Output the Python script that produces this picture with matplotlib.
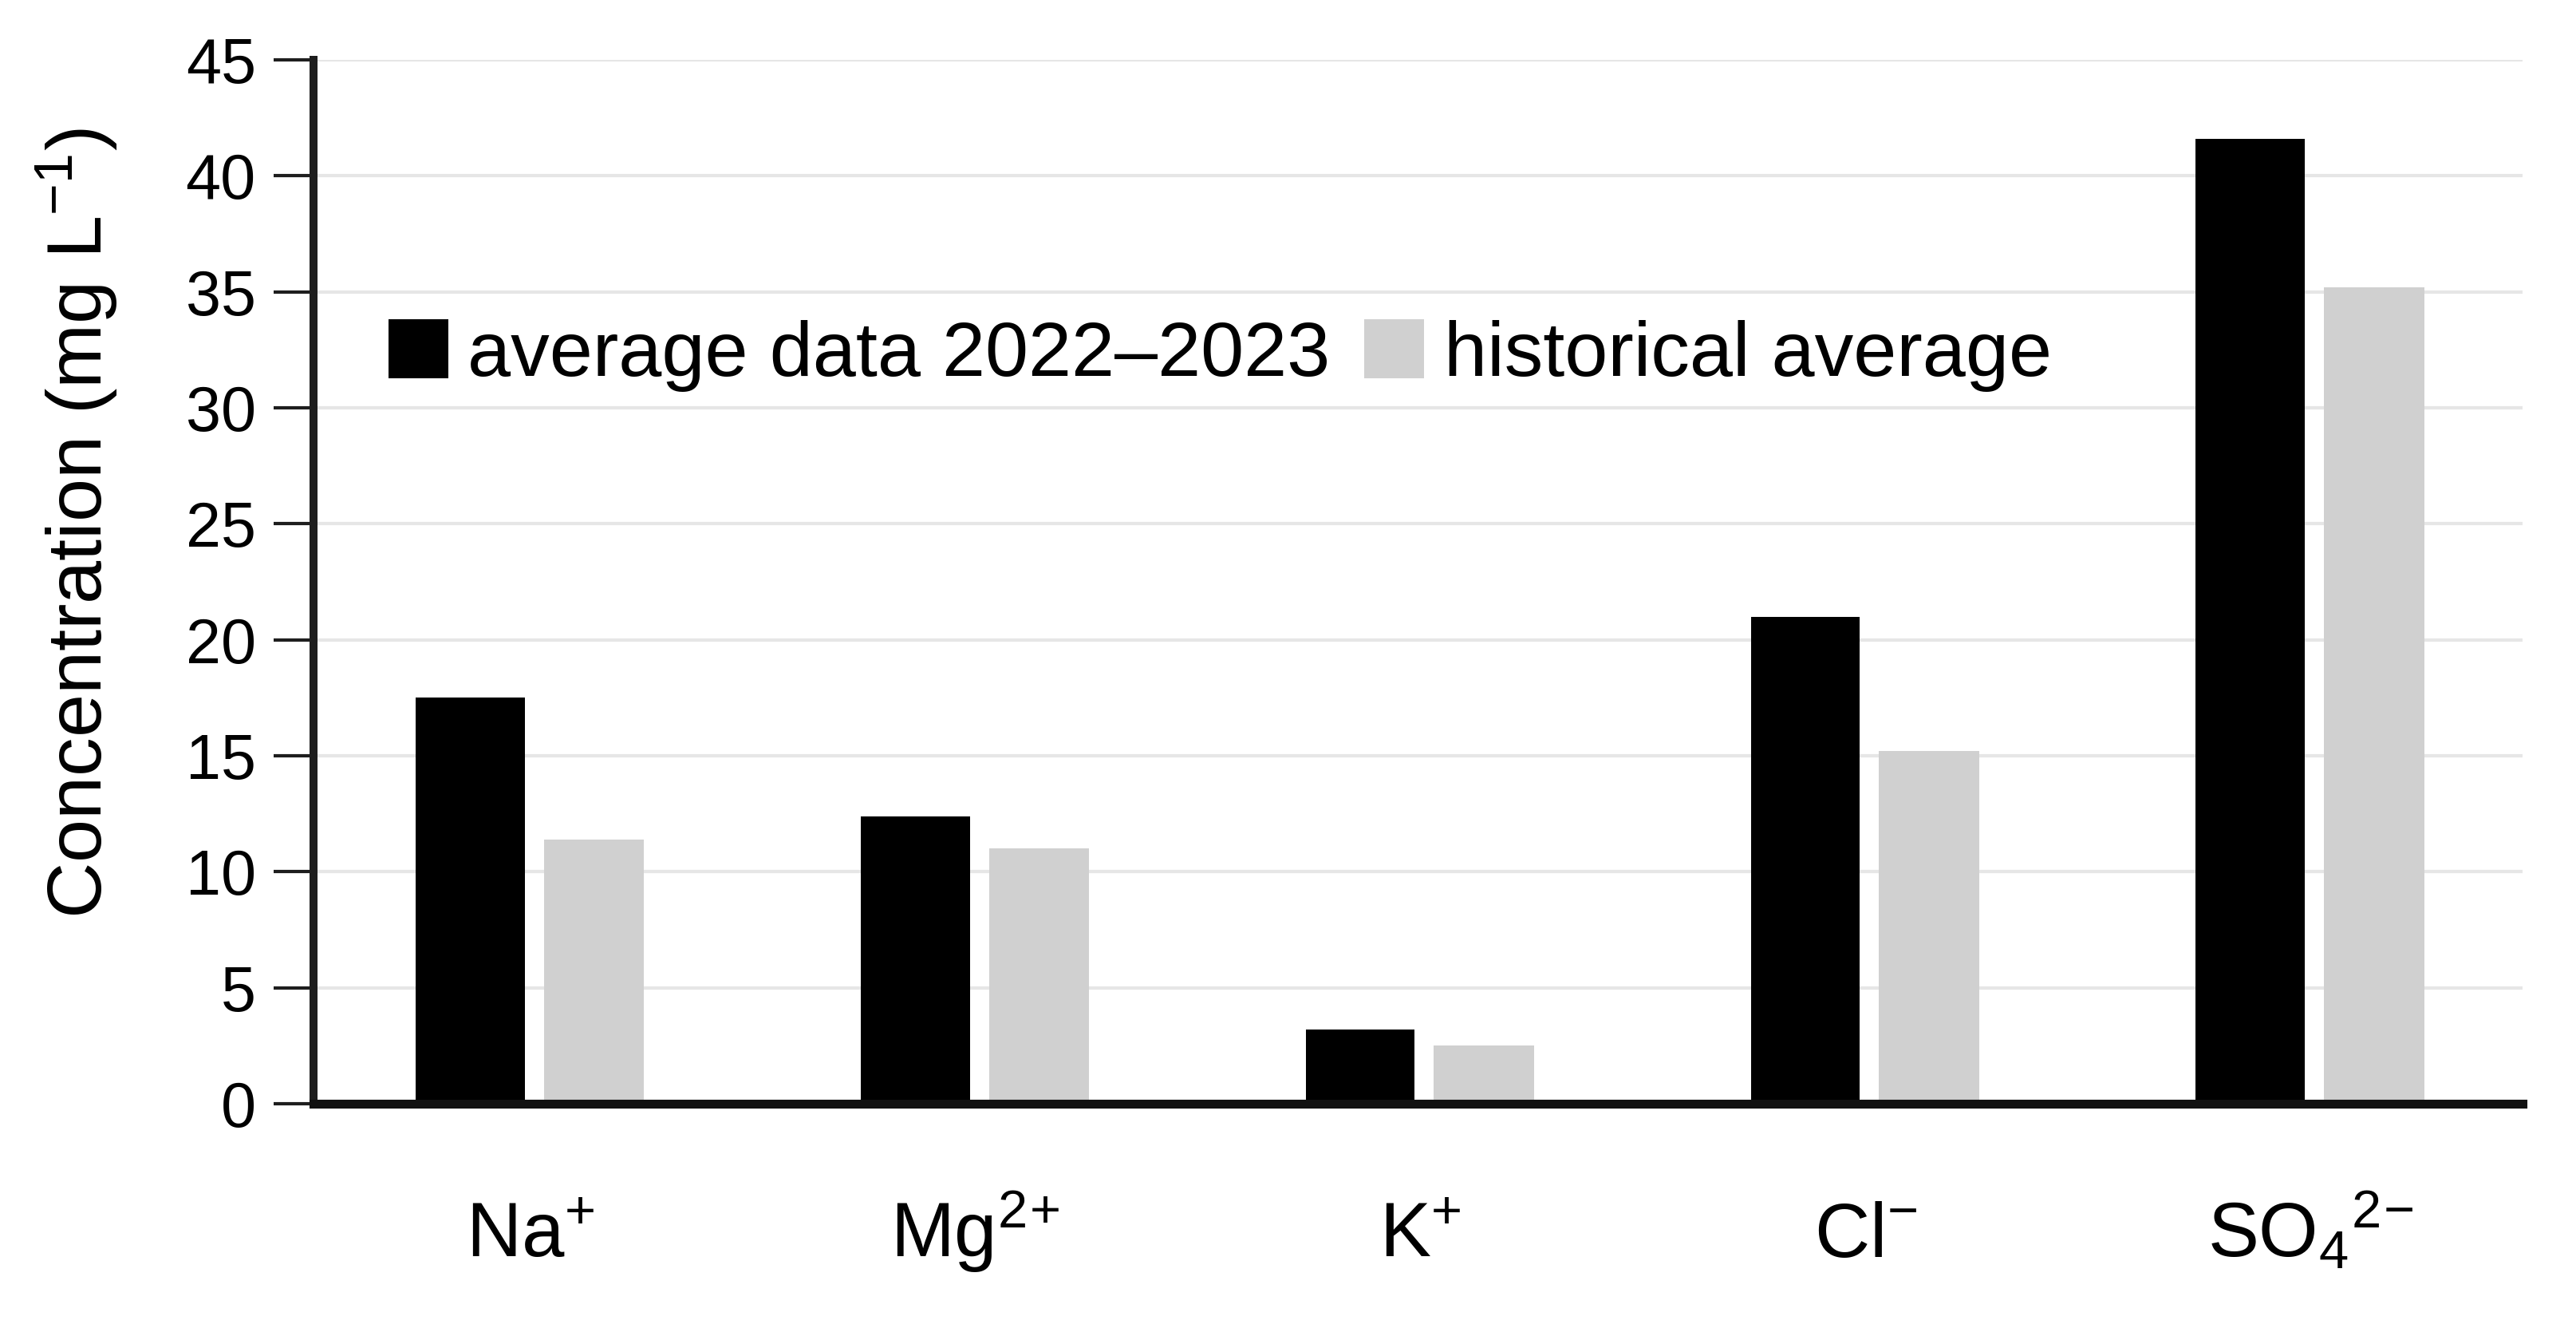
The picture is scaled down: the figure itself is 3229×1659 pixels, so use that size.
import matplotlib
matplotlib.use('Agg')
import numpy as np
import matplotlib.pyplot as plt

plt.rcParams['font.family'] = ['Liberation Sans', 'DejaVu Sans']
plt.rcParams['mathtext.fontset'] = 'custom'
plt.rcParams['mathtext.rm'] = 'Liberation Sans'
plt.rcParams['mathtext.it'] = 'Liberation Sans'
plt.rcParams['mathtext.bf'] = 'Liberation Sans:bold'

# Data
ions = ['Na$^{+}$', 'Mg$^{2}$$^{+}$', 'K$^{+}$', 'Cl$^{-}$', 'SO$_{4}$$^{2}$$^{-}$']
recent = [17.5, 12.4, 3.2, 21.0, 41.6]       # average data 2022-2023
historical = [11.4, 11.0, 2.5, 15.2, 35.2]   # historical average
yticks = [0, 5, 10, 15, 20, 25, 30, 35, 40, 45]

fig = plt.figure(figsize=(16.15, 8.295), dpi=200)
ax = fig.add_axes([0.1217, 0.1664, 0.979 - 0.1217, 0.9548 - 0.1664])

x = np.arange(len(ions))
ax.bar(x - 0.135, recent, width=0.245, color='black', label='average data 2022\u20132023')
ax.bar(x + 0.143, historical, width=0.225, color='#d0d0d0', label='historical average')

ax.set_xlim(-0.487, 4.477)
ax.set_ylim(0, 45)
ax.set_yticks(yticks)
ax.set_xticks(x)
ax.set_xticklabels(ions, fontsize=34.5)
for lab in ax.get_xticklabels():
    lab.set_verticalalignment('baseline')

# grid and axes styling
ax.set_axisbelow(True)
ax.yaxis.grid(True, color='#e6e6e6', linewidth=1.5)
ax.spines['top'].set_visible(False)
ax.spines['right'].set_visible(False)
ax.spines['left'].set_linewidth(3.6)
ax.spines['left'].set_color('#1e1e1e')
ax.spines['bottom'].set_linewidth(4.0)
ax.spines['bottom'].set_color('#111111')
ax.tick_params(axis='y', length=18, width=1.5, color='#1e1e1e', pad=8, labelsize=28.5)
ax.tick_params(axis='x', length=0, pad=69)

fig.text(0.030, 0.605, 'Concentration (mg L$^{-1}$)', rotation=90,
         ha='center', va='center', fontsize=35)

ax.legend(loc='center left', bbox_to_anchor=(0.034, 0.717), ncol=2, frameon=False,
          fontsize=35, handlelength=0.77, handleheight=0.8, handletextpad=0.25,
          columnspacing=0.44, borderpad=0, borderaxespad=0)

fig.savefig('out.png', dpi=200, facecolor='white')
